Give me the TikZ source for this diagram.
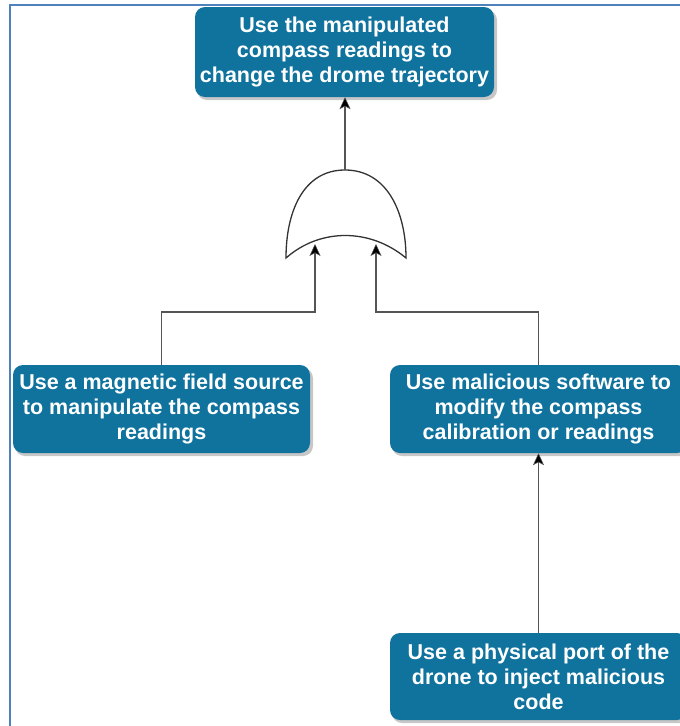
\documentclass[tikz,border=0pt]{standalone}
\usepackage{fontspec}
\setmainfont{Liberation Sans}
\usetikzlibrary{arrows.meta}
\definecolor{boxblue}{RGB}{16,115,158}
\definecolor{frameblue}{RGB}{79,129,189}
\definecolor{wire}{RGB}{85,85,85}
\tikzset{
  x=1pt, y=-1pt,
  attack/.style={rounded corners=10pt, fill=boxblue, text=white,
    font=\fontsize{21.5}{25}\selectfont\bfseries, align=center,
    minimum width=297pt, minimum height=88pt, inner sep=0pt},
  shade/.style={fill=black, opacity=0.22, rounded corners=10pt},
  arrowline/.style={draw=wire, line width=1.5pt,
    -{Stealth[length=12pt,width=11pt,inset=3pt,fill=black,line width=0.5pt]}},
  gate/.style={draw=black!80, line width=1.3pt, fill=white},
}
\begin{document}
\begin{tikzpicture}
\useasboundingbox (0,0) rectangle (680,726);
\fill[white] (0,0) rectangle (680,726);

% frame edges
\draw[frameblue, line width=2pt] (10,726) -- (10,4.5) -- (680,4.5);

% drop shadows of the boxes
\fill[shade] (197,10) rectangle (497,100);
\fill[shade] (15,368) rectangle (313,456);
\fill[shade] (392,368) rectangle (690,456);
\fill[shade] (392,636) rectangle (690,723);

% boxes
\node[attack, minimum width=299pt, minimum height=90pt] (goal) at (344.5,52)
  {Use the manipulated\\compass readings to\\change the drome trajectory};
\node[attack] (magnet) at (161.5,409)
  {Use a magnetic field source\\to manipulate the compass\\readings};
\node[attack] (software) at (538.5,409)
  {Use malicious software to\\modify the compass\\calibration or readings};
\node[attack, minimum height=87pt] (port) at (538.5,676.5)
  {Use a physical port of the\\drone to inject malicious\\code};

% OR gate
\draw[gate] (286,258) .. controls (286,212) and (303,170) .. (345,170)
  .. controls (387,170) and (406,212) .. (406,258)
  .. controls (370,228) and (320,228) .. (286,258) -- cycle;
\coordinate (gout) at (345,170);
\coordinate (gin1) at (315,244);
\coordinate (gin2) at (376,244);
\coordinate (bend1) at (315,312);
\coordinate (bend2) at (376,312);

% connectors
\draw[arrowline] (gout) -- (gout |- goal.south);
\draw[arrowline] (magnet.north) |- (bend1) -- (gin1);
\draw[arrowline] (software.north) |- (bend2) -- (gin2);
\draw[arrowline] (port.north) -- (software.south);
\end{tikzpicture}
\end{document}
